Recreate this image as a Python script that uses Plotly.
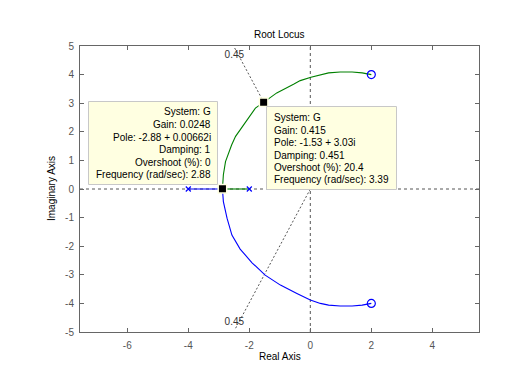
import plotly.graph_objects as go

# ---------------- data ----------------
pole_re = [-4.0, -2.0]
pole_im = [0.0, 0.0]
zero_re = [2.0, 2.0]
zero_im = [4.0, -4.0]

# real-axis parts of the two branches (meet at the break-in point)
blue_axis_re = [-4.0, -2.88]
blue_axis_im = [0.0, 0.0]
green_axis_re = [-2.0, -2.88]
green_axis_im = [0.0, 0.0]

# complex parts
green_re = [-2.88, -2.85, -2.78, -2.58, -2.45, -2.24, -2.03, -1.80, -1.53, -1.10,
            -0.55, -0.33, 0.02, 0.33, 0.60, 0.98, 1.37, 1.70, 1.91, 2.00]
green_im = [0.0066, 0.50, 0.96, 1.54, 1.84, 2.17, 2.50, 2.83, 3.03, 3.36,
            3.66, 3.79, 3.91, 4.00, 4.06, 4.09, 4.09, 4.06, 4.03, 4.00]
blue_re = [-2.88, -2.85, -2.73, -2.57, -2.30, -1.91, -1.48, -0.98, -0.44, 0.00,
           0.33, 0.60, 0.98, 1.37, 1.70, 1.91, 2.00]
blue_im = [-0.0066, -0.44, -1.02, -1.61, -2.10, -2.58, -3.01, -3.36, -3.65, -3.88,
           -4.00, -4.06, -4.09, -4.09, -4.06, -4.03, -4.00]

# damping-ratio grid line (zeta = 0.45)
damp_re = [-2.48, 0.0, -2.48]
damp_im = [4.93, 0.0, -4.93]
damp_label = "0.45"
damp_label_re = [-2.49, -2.49]
damp_label_im = [4.66, -4.66]

# data tips
tip_re = [-2.88, -1.53]
tip_im = [0.00662, 3.03]
tip1_lines = ["System: G", "Gain: 0.0248", "Pole: -2.88 + 0.00662i", "Damping: 1",
              "Overshoot (%): 0", "Frequency (rad/sec): 2.88"]
tip2_lines = ["System: G", "Gain: 0.415", "Pole: -1.53 + 3.03i", "Damping: 0.451",
              "Overshoot (%): 20.4", "Frequency (rad/sec): 3.39"]

x_ticks = [-6, -4, -2, 0, 2, 4]
y_ticks = [-5, -4, -3, -2, -1, 0, 1, 2, 3, 4, 5]
x_range = [-7.55, 5.53]
y_range = [-5, 5]

# ---------------- layout constants ----------------
W, H = 529, 372
ML, MR, MT, MB = 80, 50, 46, 40
PW = W - ML - MR
PH = H - MT - MB
FONT = "Liberation Sans, Arial, sans-serif"
AXC = "#666666"
BLUE = "#0000ff"
GREEN = "#008000"


def px(xp):
    return (xp - ML) / PW


def py(yp):
    return (H - MB - yp) / PH


fig = go.Figure()

# damping line
fig.add_trace(go.Scatter(x=damp_re, y=damp_im, mode="lines",
                         line=dict(color="#555555", width=1, dash="2px,2px"),
                         hoverinfo="skip", showlegend=False))
fig.add_trace(go.Scatter(x=damp_label_re, y=damp_label_im, mode="text",
                         text=[damp_label, damp_label],
                         textfont=dict(family=FONT, size=10, color="#333333"),
                         hoverinfo="skip", showlegend=False))

# branches
fig.add_trace(go.Scatter(x=blue_axis_re, y=blue_axis_im, mode="lines",
                         line=dict(color=BLUE, width=1.1), showlegend=False))
fig.add_trace(go.Scatter(x=green_axis_re, y=green_axis_im, mode="lines",
                         line=dict(color=GREEN, width=1.1), showlegend=False))
fig.add_trace(go.Scatter(x=green_re, y=green_im, mode="lines",
                         line=dict(color=GREEN, width=1.1), showlegend=False))
fig.add_trace(go.Scatter(x=blue_re, y=blue_im, mode="lines",
                         line=dict(color=BLUE, width=1.1), showlegend=False))

# poles and zeros
fig.add_trace(go.Scatter(x=pole_re, y=pole_im, mode="markers",
                         marker=dict(symbol="x-thin", size=5,
                                     line=dict(color=BLUE, width=1.2)),
                         showlegend=False))
fig.add_trace(go.Scatter(x=zero_re, y=zero_im, mode="markers",
                         marker=dict(symbol="circle-open", size=8, color=BLUE,
                                     line=dict(color=BLUE, width=1.2)),
                         showlegend=False))

# data tip markers
fig.add_trace(go.Scatter(x=tip_re, y=tip_im, mode="markers",
                         marker=dict(symbol="square", size=8.5, color="black",
                                     line=dict(color="#ffffe1", width=1.5)),
                         showlegend=False))

shapes = [
    # dashed axes through origin
    dict(type="line", xref="paper", yref="y", x0=0, x1=1, y0=0, y1=0,
         line=dict(color="#555555", width=1, dash="3px,3px"), layer="below"),
    dict(type="line", xref="x", yref="paper", x0=0, x1=0, y0=0, y1=1,
         line=dict(color="#555555", width=1, dash="3px,3px"), layer="below"),
    # data tip boxes
    dict(type="rect", xref="paper", yref="paper",
         x0=px(88.5), x1=px(217.5), y0=py(184.5), y1=py(101.5),
         fillcolor="#ffffe1", line=dict(color="#c8c8c8", width=1), layer="above"),
    dict(type="rect", xref="paper", yref="paper",
         x0=px(266.5), x1=px(396.5), y0=py(189.5), y1=py(106.5),
         fillcolor="#ffffe1", line=dict(color="#c8c8c8", width=1), layer="above"),
]

annotations = []
line_y1 = [111, 124.6, 137.2, 149.6, 162, 174.4]
line_y2 = [117.3, 130, 142.5, 155, 167.4, 179.8]
for t, yy in zip(tip1_lines, line_y1):
    annotations.append(dict(text=t, xref="paper", yref="paper", x=px(212.5), y=py(yy),
                            xanchor="right", yanchor="middle", showarrow=False,
                            font=dict(family=FONT, size=10, color="black")))
for t, yy in zip(tip2_lines, line_y2):
    annotations.append(dict(text=t, xref="paper", yref="paper", x=px(271.5), y=py(yy),
                            xanchor="left", yanchor="middle", showarrow=False,
                            font=dict(family=FONT, size=10, color="black")))

# title and axis labels
annotations.append(dict(text="Root Locus", xref="paper", yref="paper", x=0.5, y=1,
                        yshift=11.5, xanchor="center", yanchor="middle", showarrow=False,
                        font=dict(family=FONT, size=10, color="black")))
annotations.append(dict(text="Real Axis", xref="paper", yref="paper", x=0.5, y=0,
                        yshift=-24.5, xanchor="center", yanchor="middle", showarrow=False,
                        font=dict(family=FONT, size=10, color="black")))
annotations.append(dict(text="Imaginary Axis", xref="paper", yref="paper", x=0, y=0.5,
                        xshift=-29, xanchor="center", yanchor="middle", showarrow=False,
                        textangle=-90, font=dict(family=FONT, size=10, color="black")))

axis_common = dict(showgrid=False, zeroline=False, showline=True, linecolor=AXC,
                   linewidth=1, mirror="ticks", ticks="inside", ticklen=4,
                   tickcolor=AXC, tickwidth=1,
                   tickfont=dict(family=FONT, size=10, color="#555555"))

fig.update_layout(
    width=W, height=H,
    margin=dict(l=ML, r=MR, t=MT, b=MB, pad=0),
    paper_bgcolor="white", plot_bgcolor="white",
    xaxis=dict(range=x_range, tickvals=x_ticks, ticktext=[str(v) for v in x_ticks],
               ticklabelstandoff=4, **axis_common),
    yaxis=dict(range=y_range, tickvals=y_ticks, ticktext=[str(v) for v in y_ticks],
               ticklabelstandoff=3, **axis_common),
    shapes=shapes,
    annotations=annotations,
    showlegend=False,
)

fig.write_html("out.html", config={"displayModeBar": False},
               post_script="document.body.style.margin='0';document.body.style.overflow='hidden';")
